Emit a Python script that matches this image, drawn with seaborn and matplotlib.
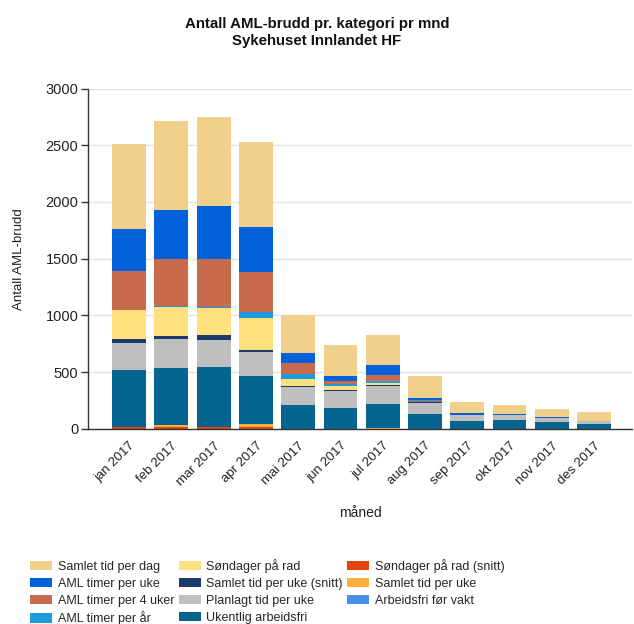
import numpy as np
import pandas as pd
import matplotlib
matplotlib.use("Agg")
import matplotlib.pyplot as plt
from matplotlib.patches import Patch
from matplotlib.ticker import FixedLocator
import matplotlib.font_manager as fm
import seaborn as sns

months = ["jan 2017", "feb 2017", "mar 2017", "apr 2017", "mai 2017", "jun 2017",
          "jul 2017", "aug 2017", "sep 2017", "okt 2017", "nov 2017", "des 2017"]

# Series, listed from the bottom of each stack to the top
sondager_paa_rad_snitt = [12, 12, 15, 14, 0, 0, 0, 0, 0, 0, 0, 0]
samlet_tid_per_uke     = [0, 18, 0, 28, 0, 0, 8, 0, 0, 0, 0, 0]
ukentlig_arbeidsfri    = [503, 505, 532, 426, 206, 185, 213, 129, 65, 76, 56, 41]
planlagt_tid_per_uke   = [241, 256, 233, 206, 159, 144, 158, 97, 56, 49, 38, 24]
samlet_tid_uke_snitt   = [35, 24, 44, 20, 14, 15, 6, 8, 0, 0, 0, 0]
sondager_paa_rad       = [253, 259, 238, 282, 59, 30, 18, 0, 0, 0, 0, 0]
arbeidsfri_for_vakt    = [0, 0, 0, 0, 0, 0, 0, 0, 0, 0, 0, 0]
aml_timer_per_aar      = [0, 11, 12, 56, 47, 23, 15, 6, 0, 0, 0, 0]
aml_timer_per_4_uker   = [350, 412, 423, 351, 95, 21, 52, 10, 0, 0, 0, 0]
aml_timer_per_uke      = [368, 435, 471, 397, 88, 44, 92, 24, 17, 4, 6, 0]
samlet_tid_per_dag     = [753, 786, 785, 750, 338, 273, 262, 194, 94, 80, 74, 79]

stack = [
    ("Søndager på rad (snitt)", sondager_paa_rad_snitt, "#E2450F"),
    ("Samlet tid per uke", samlet_tid_per_uke, "#FBAF3A"),
    ("Ukentlig arbeidsfri", ukentlig_arbeidsfri, "#06658F"),
    ("Planlagt tid per uke", planlagt_tid_per_uke, "#BFBFBF"),
    ("Samlet tid per uke (snitt)", samlet_tid_uke_snitt, "#1C3A6A"),
    ("Søndager på rad", sondager_paa_rad, "#FEE07F"),
    ("Arbeidsfri før vakt", arbeidsfri_for_vakt, "#4A8FE6"),
    ("AML timer per år", aml_timer_per_aar, "#1B9BDD"),
    ("AML timer per 4 uker", aml_timer_per_4_uker, "#C86A4C"),
    ("AML timer per uke", aml_timer_per_uke, "#0061DA"),
    ("Samlet tid per dag", samlet_tid_per_dag, "#F1D08C"),
]

legend_order = [
    "Samlet tid per dag", "AML timer per uke", "AML timer per 4 uker", "AML timer per år",
    "Søndager på rad", "Samlet tid per uke (snitt)", "Planlagt tid per uke", "Ukentlig arbeidsfri",
    "Søndager på rad (snitt)", "Samlet tid per uke", "Arbeidsfri før vakt",
]

sns.set_theme(style="white")
available = {f.name for f in fm.fontManager.ttflist}
narrow = "Liberation Sans Narrow" if "Liberation Sans Narrow" in available else "Liberation Sans"
plt.rcParams["font.family"] = [narrow, "DejaVu Sans"]
text_color = "#222222"

# long table with cumulative tops for each layer
rows = []
running = np.zeros(len(months))
for name, vals, color in stack:
    running = running + np.array(vals, dtype=float)
    for m, top in zip(months, running):
        rows.append({"måned": m, "serie": name, "topp": top})
df = pd.DataFrame(rows)

fig = plt.figure(figsize=(6.34, 6.24), dpi=100)
ax = fig.add_axes([0.139, 0.313, 0.858, 0.545])

# draw from the top layer down so each lower layer covers the one above
for name, vals, color in reversed(stack):
    sub = df[df["serie"] == name]
    sns.barplot(data=sub, x="måned", y="topp", order=months, color=color,
                saturation=1, width=0.8, linewidth=0, errorbar=None, ax=ax, zorder=2)

ax.set_ylim(0, 3000)
ax.set_xlim(-0.97, 11.9)
ax.set_yticks([0, 500, 1000, 1500, 2000, 2500, 3000])
ax.yaxis.grid(True, color="#e4e4e4", linewidth=1, zorder=0)
ax.set_axisbelow(True)
for s in ["top", "right"]:
    ax.spines[s].set_visible(False)
for s in ["left", "bottom"]:
    ax.spines[s].set_color("#333333")
    ax.spines[s].set_linewidth(1)

ax.tick_params(axis="y", length=5, width=1, color="#333333", labelsize=10.5,
               labelcolor=text_color, pad=2, left=True)
ax.set_yticklabels([str(v) for v in [0, 500, 1000, 1500, 2000, 2500, 3000]],
                   family=["Liberation Sans", "DejaVu Sans"])
ax.set_xticks(range(len(months)))
ax.set_xticklabels(months, rotation=45, ha="right", rotation_mode="anchor",
                   fontsize=9.5, color=text_color)
ax.tick_params(axis="x", which="major", length=0, pad=8)
ax.xaxis.set_minor_locator(FixedLocator([1, 3, 5, 7, 9, 11]))
ax.tick_params(axis="x", which="minor", length=5, width=1, color="#333333", bottom=True)

ax.set_xlabel("måned", fontsize=10, color=text_color, labelpad=13)
ax.set_ylabel("Antall AML-brudd", fontsize=9.5, color=text_color, labelpad=15)

fig.text(0.5, 0.973, "Antall AML-brudd pr. kategori pr mnd\nSykehuset Innlandet HF",
         ha="center", va="top", fontsize=10.8, fontweight="bold", color="#111111",
         linespacing=1.3)

colors = {name: color for name, vals, color in stack}
handles = [Patch(facecolor=colors[n], edgecolor="none", label=n) for n in legend_order]
fig.legend(handles=handles, loc="upper left", bbox_to_anchor=(0.040, 0.112),
           bbox_transform=fig.transFigure, ncol=3, frameon=False, fontsize=9,
           handlelength=1.75, handleheight=0.8, handletextpad=0.45,
           columnspacing=0.35, labelspacing=0.38, borderaxespad=0)

fig.savefig("out.png", dpi=100)
